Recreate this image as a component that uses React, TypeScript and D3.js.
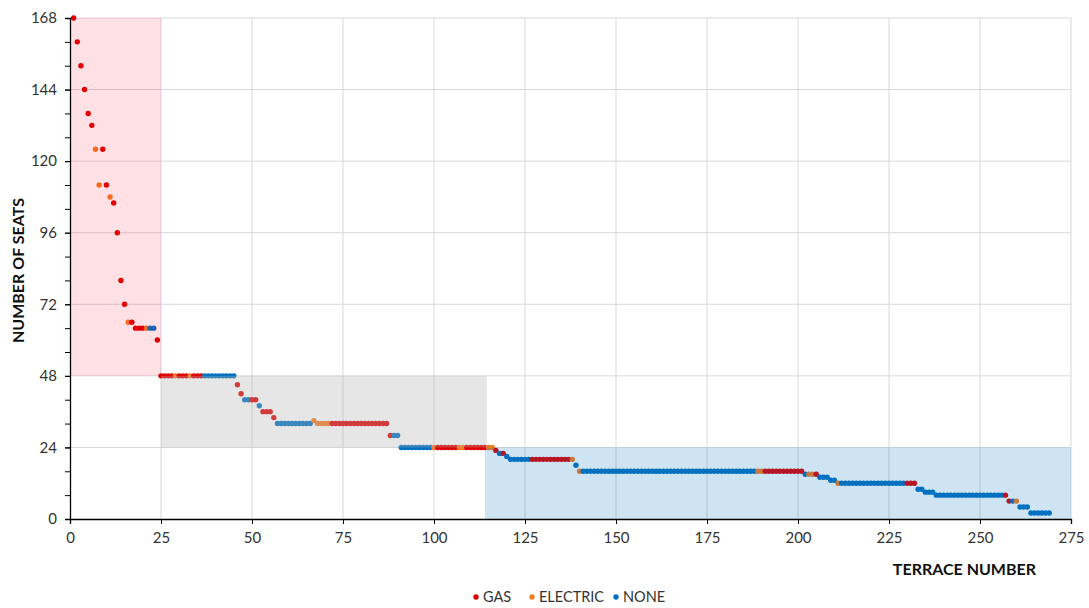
import { useEffect, useRef } from 'react'
import * as d3 from 'd3'

// terrace runs: [first terrace, last terrace, seats, heating type]
const RUNS: [number, number, number, string][] = [
  [1, 1, 168, 'GAS'], [2, 2, 160, 'GAS'], [3, 3, 152, 'GAS'], [4, 4, 144, 'GAS'],
  [5, 5, 136, 'GAS'], [6, 6, 132, 'GAS'], [7, 7, 124, 'ELECTRIC'], [8, 8, 112, 'ELECTRIC'],
  [9, 9, 124, 'GAS'], [10, 10, 112, 'GAS'], [11, 11, 108, 'ELECTRIC'], [12, 12, 106, 'GAS'],
  [13, 13, 96, 'GAS'], [14, 14, 80, 'GAS'], [15, 15, 72, 'GAS'], [16, 16, 66, 'ELECTRIC'],
  [17, 17, 66, 'GAS'], [18, 20, 64, 'GAS'], [21, 21, 64, 'ELECTRIC'], [22, 23, 64, 'NONE'],
  [24, 24, 60, 'GAS'],
  [25, 28, 48, 'GAS'], [29, 29, 48, 'ELECTRIC'], [30, 32, 48, 'GAS'], [33, 33, 48, 'ELECTRIC'],
  [34, 36, 48, 'GAS'], [37, 45, 48, 'NONE'],
  [46, 46, 45, 'GAS'], [47, 47, 42, 'GAS'], [48, 49, 40, 'NONE'], [50, 51, 40, 'GAS'],
  [52, 52, 38, 'NONE'], [53, 55, 36, 'GAS'], [56, 56, 34, 'GAS'],
  [57, 66, 32, 'NONE'], [67, 67, 33, 'ELECTRIC'], [68, 71, 32, 'ELECTRIC'], [72, 87, 32, 'GAS'],
  [88, 88, 28, 'GAS'], [89, 90, 28, 'NONE'],
  [91, 99, 24, 'NONE'], [100, 100, 24, 'ELECTRIC'], [101, 106, 24, 'GAS'], [107, 108, 24, 'ELECTRIC'],
  [109, 114, 24, 'GAS'], [115, 116, 24, 'ELECTRIC'],
  [117, 117, 23, 'GAS'], [118, 118, 22, 'NONE'], [119, 119, 22, 'GAS'], [120, 120, 21, 'NONE'],
  [121, 126, 20, 'NONE'], [127, 137, 20, 'GAS'], [138, 138, 20, 'ELECTRIC'],
  [139, 139, 18, 'NONE'], [140, 140, 16, 'ELECTRIC'],
  [141, 188, 16, 'NONE'], [189, 190, 16, 'ELECTRIC'], [191, 201, 16, 'GAS'],
  [202, 202, 15, 'NONE'], [203, 204, 15, 'ELECTRIC'], [205, 205, 15, 'GAS'],
  [206, 208, 14, 'NONE'], [209, 210, 13, 'NONE'], [211, 211, 12, 'ELECTRIC'],
  [212, 229, 12, 'NONE'], [230, 232, 12, 'GAS'],
  [233, 234, 10, 'NONE'], [235, 237, 9, 'NONE'], [238, 256, 8, 'NONE'], [257, 257, 8, 'GAS'],
  [258, 258, 6, 'GAS'], [259, 259, 6, 'NONE'], [260, 260, 6, 'ELECTRIC'],
  [261, 263, 4, 'NONE'], [264, 269, 2, 'NONE'],
]

// shaded bands: [x0, x1, y0, y1, fill]
const BANDS: [number, number, number, number, string][] = [
  [0, 25, 48, 168, 'rgba(255,0,40,0.12)'],
  [25, 114.5, 24, 48, 'rgba(180,180,180,0.33)'],
  [114, 275, 0, 24, 'rgba(0,112,192,0.19)'],
]

const TYPES = ['GAS', 'ELECTRIC', 'NONE']
const COLORS = ['#e00000', '#f47b20', '#0070c0']
const X_TICKS = [0, 25, 50, 75, 100, 125, 150, 175, 200, 225, 250, 275]
const Y_TICKS = [0, 24, 48, 72, 96, 120, 144, 168]
const Y_MINOR = d3.range(0, 169, 8)

const W = 1089
const H = 608
const MARGIN = { top: 18, right: 18, bottom: 89, left: 70 }
const FONT = 'Lato, "Open Sans", sans-serif'

export default function App() {
  const svgRef = useRef<SVGSVGElement>(null)

  useEffect(() => {
    document.body.style.margin = '0'
    if (!svgRef.current) return
    const innerW = W - MARGIN.left - MARGIN.right
    const innerH = H - MARGIN.top - MARGIN.bottom

    const x = d3.scaleLinear().domain([0, 275]).range([0, innerW])
    const y = d3.scaleLinear().domain([0, 168]).range([innerH, 0])
    const color = d3.scaleOrdinal<string, string>().domain(TYPES).range(COLORS)

    const points: { t: number; s: number; type: string }[] = []
    RUNS.forEach(([a, b, s, type]) => {
      for (let t = a; t <= b; t++) points.push({ t, s, type })
    })

    const svg = d3.select(svgRef.current)
    svg.selectAll('*').remove()
    const g = svg.append('g').attr('transform', `translate(${MARGIN.left},${MARGIN.top})`)

    // grid
    g.append('g')
      .selectAll('line')
      .data(X_TICKS.slice(1))
      .join('line')
      .attr('x1', (d) => x(d))
      .attr('x2', (d) => x(d))
      .attr('y1', 0)
      .attr('y2', innerH)
      .attr('stroke', '#d9d9d9')
    g.append('g')
      .selectAll('line')
      .data(Y_TICKS.slice(1))
      .join('line')
      .attr('x1', 0)
      .attr('x2', innerW)
      .attr('y1', (d) => y(d))
      .attr('y2', (d) => y(d))
      .attr('stroke', '#d9d9d9')

    // points
    g.append('g')
      .selectAll('circle')
      .data(points)
      .join('circle')
      .attr('cx', (d) => x(d.t))
      .attr('cy', (d) => y(d.s))
      .attr('r', 2.7)
      .attr('fill', (d) => color(d.type))

    // translucent bands over the points
    g.append('g')
      .selectAll('rect')
      .data(BANDS)
      .join('rect')
      .attr('x', (d) => x(d[0]))
      .attr('width', (d) => x(d[1]) - x(d[0]))
      .attr('y', (d) => y(d[3]))
      .attr('height', (d) => y(d[2]) - y(d[3]))
      .attr('fill', (d) => d[4])

    // axes
    g.append('g')
      .call(d3.axisLeft(y).tickValues(Y_MINOR).tickSize(5).tickFormat(() => ''))
      .call((a) => {
        a.select('.domain').remove()
        a.selectAll('.tick line').attr('stroke', '#000')
      })
    g.append('g')
      .call(d3.axisLeft(y).tickValues(Y_TICKS).tickSize(5).tickPadding(8))
      .call((a) => {
        a.select('.domain').attr('stroke', '#000').attr('stroke-width', 1.3)
        a.selectAll('.tick line').attr('stroke', '#000')
        a.selectAll('.tick text')
          .attr('fill', '#333')
          .attr('font-size', 15)
          .attr('font-family', FONT)
      })

    g.append('g')
      .attr('transform', `translate(0,${innerH})`)
      .call(d3.axisBottom(x).tickValues(X_TICKS).tickSize(5).tickPadding(8))
      .call((a) => {
        a.select('.domain').attr('stroke', '#000').attr('stroke-width', 1.3)
        a.selectAll('.tick line').attr('stroke', '#000')
        a.selectAll('.tick text')
          .attr('fill', '#333')
          .attr('font-size', 15)
          .attr('font-family', FONT)
      })

    // axis titles
    svg.append('text')
      .attr('transform', `translate(24,${MARGIN.top + innerH / 2 + 2}) rotate(-90)`)
      .attr('text-anchor', 'middle')
      .attr('font-size', 16)
      .attr('font-weight', 'bold')
      .attr('font-family', FONT)
      .attr('fill', '#111')
      .text('NUMBER OF SEATS')
    svg.append('text')
      .attr('x', 1036)
      .attr('y', 575)
      .attr('text-anchor', 'end')
      .attr('font-size', 16)
      .attr('font-weight', 'bold')
      .attr('font-family', FONT)
      .attr('fill', '#111')
      .text('TERRACE NUMBER')

    // legend
    const legendX = [476, 532, 616]
    const leg = svg.append('g')
    TYPES.forEach((t, i) => {
      leg.append('circle')
        .attr('cx', legendX[i])
        .attr('cy', 597)
        .attr('r', 2.7)
        .attr('fill', COLORS[i])
      leg.append('text')
        .attr('x', legendX[i] + 7)
        .attr('y', 602)
        .attr('font-size', 14.5)
        .attr('font-family', FONT)
        .attr('fill', '#333')
        .text(t)
    })
  }, [])

  return <svg ref={svgRef} width={W} height={H} style={{ display: 'block', background: '#fff' }} />
}
